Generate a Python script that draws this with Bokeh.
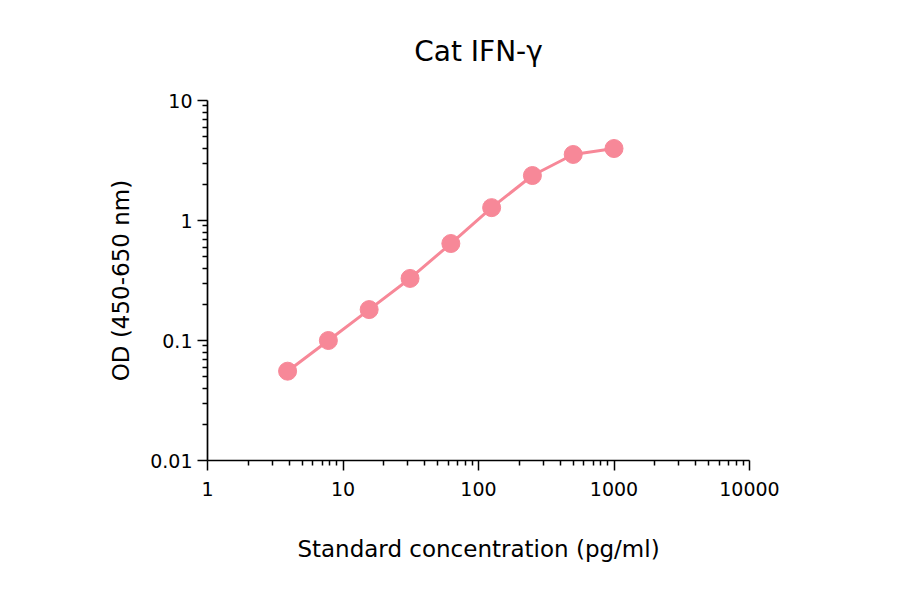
from bokeh.plotting import figure
from bokeh.models import FixedTicker
from bokeh.embed import file_html
from bokeh.resources import INLINE

# ---- data ----
conc = [3.9, 7.8, 15.6, 31.25, 62.5, 125, 250, 500, 1000]
od = [0.0555, 0.100, 0.181, 0.329, 0.643, 1.28, 2.37, 3.55, 3.98]

x_ticks = [1, 10, 100, 1000, 10000]
x_tick_labels = ["1", "10", "100", "1000", "10000"]
y_ticks = [0.01, 0.1, 1, 10]
y_tick_labels = ["0.01", "0.1", "1", "10"]

title_text = "Cat IFN-γ"
x_label = "Standard concentration (pg/ml)"
y_label = "OD (450-650 nm)"

color = "#F78898"
font = "DejaVu Sans"

x_minor = [m * 10 ** k for k in range(0, 4) for m in range(2, 10)]
y_minor = [m * 10.0 ** k for k in range(-2, 1) for m in range(2, 10)]

p = figure(width=884, height=578, x_axis_type="log", y_axis_type="log",
           x_range=(1, 10000), y_range=(0.01, 10),
           output_backend="svg", toolbar_location=None,
           min_border_left=207, min_border_right=135,
           min_border_top=100, min_border_bottom=118)

p.title.text = title_text
p.title.align = "center"
p.title.text_font = font
p.title.text_font_size = "28px"
p.title.text_font_style = "normal"
p.title.text_color = "black"
p.title.standoff = 65

p.xgrid.visible = False
p.ygrid.visible = False
p.outline_line_color = None

p.xaxis.ticker = FixedTicker(ticks=x_ticks, minor_ticks=x_minor)
p.yaxis.ticker = FixedTicker(ticks=y_ticks, minor_ticks=y_minor)
p.xaxis.major_label_overrides = {t: l for t, l in zip(x_ticks, x_tick_labels)}
p.yaxis.major_label_overrides = {t: l for t, l in zip(y_ticks, y_tick_labels)}

for ax in (p.xaxis, p.yaxis):
    ax.axis_line_width = 1.7
    ax.axis_line_color = "black"
    ax.major_tick_line_width = 1.5
    ax.minor_tick_line_width = 1.5
    ax.major_tick_line_color = "black"
    ax.minor_tick_line_color = "black"
    ax.major_tick_in = 0
    ax.major_tick_out = 10
    ax.minor_tick_in = 0
    ax.minor_tick_out = 5
    ax.major_label_text_font = font
    ax.major_label_text_font_size = "19px"
    ax.major_label_text_color = "black"
    ax.axis_label_text_font = font
    ax.axis_label_text_font_size = "23px"
    ax.axis_label_text_font_style = "normal"
    ax.axis_label_text_color = "black"

p.xaxis.axis_label = x_label
p.yaxis.axis_label = y_label
p.xaxis.major_label_standoff = 11
p.xaxis.axis_label_standoff = 37
p.yaxis.major_label_standoff = 5
p.yaxis.axis_label_standoff = 13

p.line(conc, od, line_color=color, line_width=3)
p.scatter(conc, od, size=18, fill_color=color, line_color=color)

open("out.html", "w").write(file_html(p, INLINE))
